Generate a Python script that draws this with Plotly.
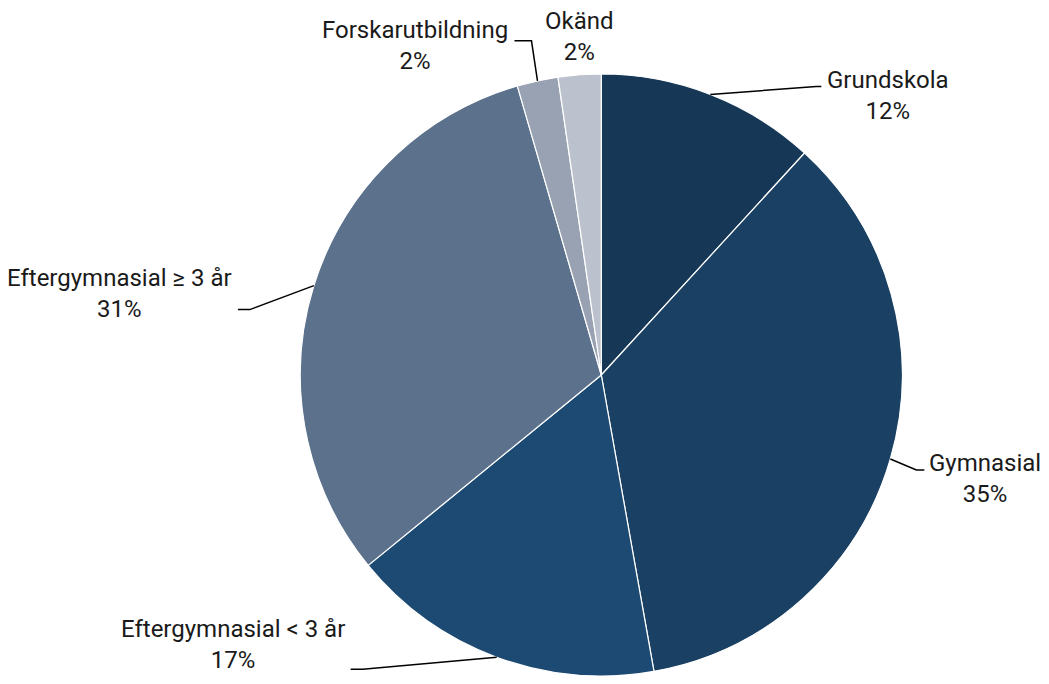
import math
import plotly.graph_objects as go

# ---- data ----
categories = ["Grundskola", "Gymnasial", "Eftergymnasial < 3 år",
              "Eftergymnasial ≥ 3 år", "Forskarutbildning", "Okänd"]
values = [11.8, 35.4, 16.9, 31.4, 2.2, 2.3]
colors = ["#163856", "#1a4063", "#1d4a72", "#5c718c", "#98a2b2", "#bcc2cd"]

# ---- layout / style ----
PAGE_OFFSET = 8                         # browser default body margin
W, H = 1049 - 2 * PAGE_OFFSET, 684 - 2 * PAGE_OFFSET
CX, CY, R = 601.3 - PAGE_OFFSET, 375.0 - PAGE_OFFSET, 301.0
FONT = "Roboto"
FS = 24
# label placement (pixels): elbow offset from slice edge point, tail length (signed),
# vertical offset of label block centre from the tail, whether to draw connector
label_style = [
    dict(elbow=(106, -8), tail=5, dy=9, gap=4, line=True),
    dict(elbow=(26, 11), tail=8, dy=9, gap=3, line=True),
    dict(elbow=(-134, 12), tail=-12, dy=-25, gap=4, line=True),
    dict(elbow=(-64, 24), tail=-12, dy=-16, gap=4, line=True),
    dict(elbow=(-6, -40), tail=-17, dy=5, gap=4, line=True),
    dict(elbow=(0, -38), tail=0, dy=0, gap=0, line=False),
]

def px2paper(x, y):
    return x / W, 1 - y / H

dom_x = [(CX - R) / W, (CX + R) / W]
dom_y = [1 - (CY + R) / H, 1 - (CY - R) / H]

fig = go.Figure(go.Pie(
    labels=categories, values=values, sort=False, direction="clockwise",
    rotation=0, marker=dict(colors=colors, line=dict(color="white", width=1.2)),
    textinfo="none", hoverinfo="label+percent", showlegend=False,
    domain=dict(x=dom_x, y=dom_y),
))

total = sum(values)
cum = 0.0
shapes, annotations = [], []
for cat, v, st in zip(categories, values, label_style):
    mid = (cum + v / 2) / total * 2 * math.pi
    cum += v
    sx = CX + R * math.sin(mid)
    sy = CY - R * math.cos(mid)
    ex, ey = sx + st["elbow"][0], sy + st["elbow"][1]
    tx = ex + st["tail"]
    pct = round(v / total * 100)
    if st["line"]:
        pts = [px2paper(sx, sy), px2paper(ex, ey), px2paper(tx, ey)]
        path = "M {} {} L {} {} L {} {}".format(*[c for p in pts for c in p])
        shapes.append(dict(type="path", xref="paper", yref="paper", path=path,
                           line=dict(color="black", width=1.5)))
        anchor = "left" if st["tail"] > 0 else "right"
        lx = tx + (st["gap"] if st["tail"] > 0 else -st["gap"])
    else:
        anchor = "center"
        lx = ex
    ax, ay = px2paper(lx, ey + st["dy"])
    annotations.append(dict(
        x=ax, y=ay, xref="paper", yref="paper", xanchor=anchor, yanchor="middle",
        text=f"{cat}<br>{pct}%", showarrow=False, align="center",
        font=dict(family=FONT, size=FS, color="#1a1a1a"),
    ))

fig.update_layout(
    width=W, height=H, margin=dict(l=0, r=0, t=0, b=0),
    paper_bgcolor="white", plot_bgcolor="white",
    shapes=shapes, annotations=annotations,
)
fig.write_html("out.html")
